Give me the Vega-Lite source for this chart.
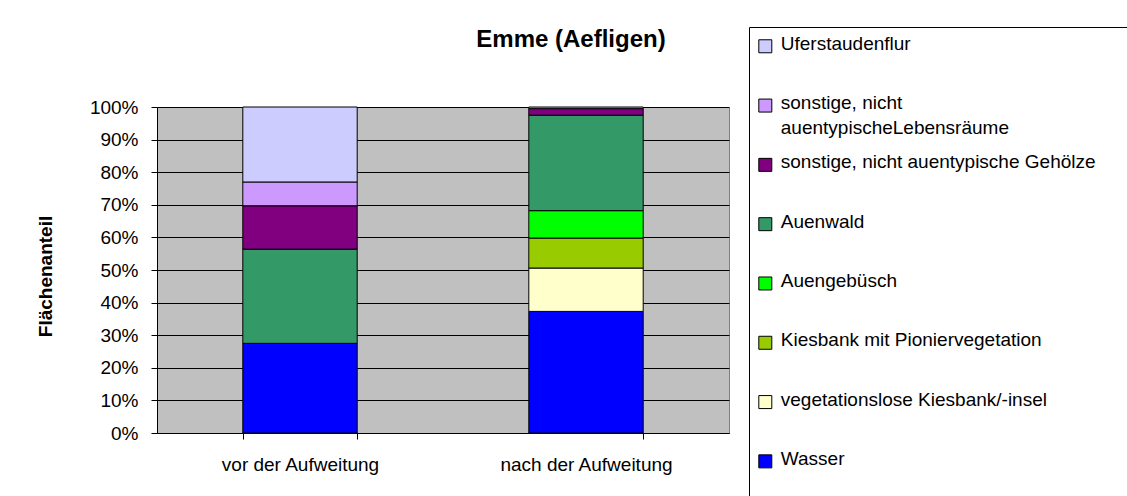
{
  "$schema": "https://vega.github.io/schema/vega-lite/v6.json",
  "width": 572,
  "height": 326,
  "autosize": {"type": "none"},
  "padding": {"left": 157, "top": 107, "right": 398, "bottom": 63},
  "background": "white",
  "config": {
    "font": "Liberation Sans",
    "view": {"fill": "#C0C0C0", "stroke": "#808080", "strokeWidth": 1}
  },
  "title": {
    "text": "Emme (Aefligen)",
    "fontSize": 24,
    "fontWeight": "bold",
    "color": "#000000",
    "anchor": "middle",
    "dx": 128,
    "offset": -25
  },
  "data": {
    "values": [
      {"zustand": "vor der Aufweitung", "typ": "Wasser", "rang": 1, "anteil": 27.5},
      {"zustand": "vor der Aufweitung", "typ": "Auenwald", "rang": 5, "anteil": 28.9},
      {"zustand": "vor der Aufweitung", "typ": "sonstige, nicht auentypische Gehölze", "rang": 6, "anteil": 13.3},
      {"zustand": "vor der Aufweitung", "typ": "sonstige, nicht auentypischeLebensräume", "rang": 7, "anteil": 7.3},
      {"zustand": "vor der Aufweitung", "typ": "Uferstaudenflur", "rang": 8, "anteil": 23.0},
      {"zustand": "nach der Aufweitung", "typ": "Wasser", "rang": 1, "anteil": 37.3},
      {"zustand": "nach der Aufweitung", "typ": "vegetationslose Kiesbank/-insel", "rang": 2, "anteil": 13.3},
      {"zustand": "nach der Aufweitung", "typ": "Kiesbank mit Pioniervegetation", "rang": 3, "anteil": 9.2},
      {"zustand": "nach der Aufweitung", "typ": "Auengebüsch", "rang": 4, "anteil": 8.4},
      {"zustand": "nach der Aufweitung", "typ": "Auenwald", "rang": 5, "anteil": 29.3},
      {"zustand": "nach der Aufweitung", "typ": "sonstige, nicht auentypische Gehölze", "rang": 6, "anteil": 2.0},
      {"zustand": "nach der Aufweitung", "typ": "sonstige, nicht auentypischeLebensräume", "rang": 7, "anteil": 0.5}
    ]
  },
  "mark": {"type": "bar", "stroke": "#000000", "strokeWidth": 1},
  "encoding": {
    "x": {
      "field": "zustand",
      "type": "nominal",
      "sort": ["vor der Aufweitung", "nach der Aufweitung"],
      "scale": {"paddingInner": 0.6, "paddingOuter": 0.3},
      "axis": {
        "title": null,
        "labelAngle": 0,
        "labelFontSize": 19,
        "labelColor": "#000000",
        "labelPadding": 16,
        "tickBand": "extent",
        "tickSize": 6,
        "tickColor": "#000000",
        "domainColor": "#000000",
        "grid": false
      }
    },
    "y": {
      "field": "anteil",
      "type": "quantitative",
      "stack": "zero",
      "scale": {"domain": [0, 100], "nice": false},
      "axis": {
        "title": "Flächenanteil",
        "titleFontSize": 19,
        "titleFontWeight": "bold",
        "titleColor": "#000000",
        "titlePadding": 34,
        "titleY": 169,
        "values": [0, 10, 20, 30, 40, 50, 60, 70, 80, 90, 100],
        "labelExpr": "datum.value + '%'",
        "labelFontSize": 19,
        "labelColor": "#000000",
        "labelPadding": 13,
        "tickSize": 6,
        "tickColor": "#000000",
        "domainColor": "#000000",
        "gridColor": "#000000",
        "gridOpacity": 1,
        "gridWidth": 1
      }
    },
    "color": {
      "field": "typ",
      "type": "nominal",
      "scale": {
        "domain": [
          "Uferstaudenflur",
          "sonstige, nicht auentypischeLebensräume",
          "sonstige, nicht auentypische Gehölze",
          "Auenwald",
          "Auengebüsch",
          "Kiesbank mit Pioniervegetation",
          "vegetationslose Kiesbank/-insel",
          "Wasser"
        ],
        "range": ["#CCCCFF", "#CC99FF", "#800080", "#339966", "#00FF00", "#99CC00", "#FFFFCC", "#0000FF"]
      },
      "legend": {
        "title": null,
        "orient": "none",
        "legendX": 592,
        "legendY": -80,
        "padding": 6.8,
        "strokeColor": "#000000",
        "fillColor": "#ffffff",
        "clipHeight": 46,
        "rowPadding": 13.3,
        "labelBaseline": "line-bottom",
        "labelOffset": 6,
        "labelFontSize": 19,
        "labelColor": "#000000",
        "labelLimit": 0,
        "labelExpr": "datum.label == 'sonstige, nicht auentypischeLebensräume' ? ['sonstige, nicht', 'auentypischeLebensräume'] : datum.label + '\u00a0\u00a0\u00a0\u00a0\u00a0\u00a0\u200b'",
        "symbolType": "M-1,-2.62H1V-0.62H-1Z",
        "symbolSize": 169,
        "symbolStrokeColor": "#000000",
        "symbolStrokeWidth": 1,
        "symbolOpacity": 1,
        "encoding": {"labels": {"lineHeight": {"value": 25}}}
      }
    },
    "order": {"field": "rang", "type": "quantitative"}
  }
}
